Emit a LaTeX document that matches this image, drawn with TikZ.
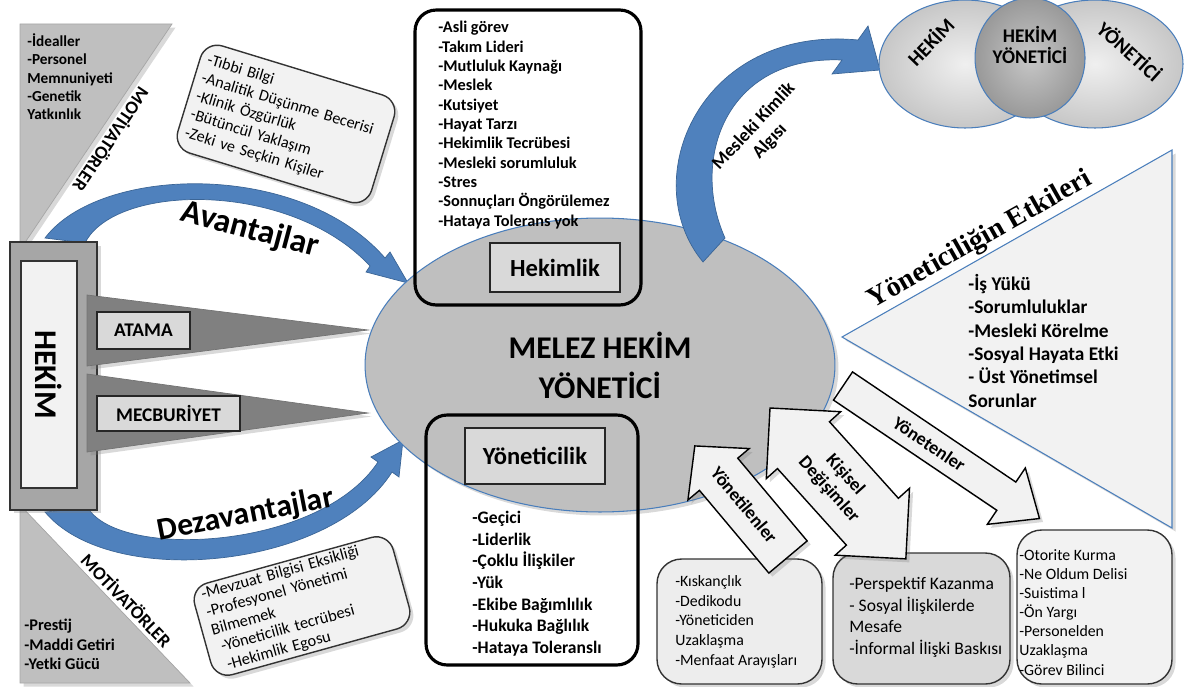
\documentclass[tikz,border=0pt]{standalone}
\usepackage{fontspec}
\setmainfont{Carlito}
\newfontfamily\serifbold{Liberation Serif}
\usetikzlibrary{shapes.geometric, arrows.meta, positioning, calc, shadows}
\definecolor{frameGray}{HTML}{A6A6A6}
\definecolor{paleGray}{HTML}{F2F2F2}
\definecolor{labelGray}{HTML}{D9D9D9}
\definecolor{wedgeGray}{HTML}{808080}
\definecolor{coreGray}{HTML}{BFBFBF}
\definecolor{bandBlue}{HTML}{4F81BD}
\definecolor{rimBlue}{HTML}{4A7EBB}

\begin{document}
\begin{tikzpicture}[
    x=0.02cm, y=-0.02cm,
    every node/.style={inner sep=0pt},
    softshadow/.style={drop shadow={opacity=0.3, shadow xshift=2pt, shadow yshift=-2pt}},
    listtext/.style={align=left, anchor=north west, font=\bfseries\fontsize{9.3}{11}\selectfont},
    notetext/.style={align=left, anchor=north west, font=\fontsize{9}{11.2}\selectfont},
    labelbox/.style={draw=black!85, line width=0.6pt, fill=labelGray, font=\bfseries\fontsize{11}{13}\selectfont},
    roundbox/.style={draw=black, line width=1.8pt, rounded corners=12pt},
    notebox/.style={draw=black!80, fill=paleGray, rounded corners=10pt, line width=0.8pt, softshadow},
    blockarrow/.style={draw=black, line width=0.8pt, fill=paleGray, softshadow},
    bluearrow/.style={fill=bandBlue, draw=rimBlue!80!black, line width=0.4pt},
    venn/.style={ellipse, draw=rimBlue, line width=0.6pt},
]
\useasboundingbox (0,0) rectangle (1185,686);

% motivator corners
\filldraw[fill=coreGray, draw=black!35, softshadow] (20,24) -- (172,24) -- (20,250) -- cycle;
\filldraw[fill=coreGray, draw=black!35, softshadow] (20,505) -- (190,683) -- (20,683) -- cycle;
\node[listtext, font=\bfseries\fontsize{8.7}{10.5}\selectfont] (idealler) at (27,33)
    {-İdealler\\-Personel\\Memnuniyeti\\-Genetik\\Yatkınlık};
\node[listtext] (prestij) at (24,619) {-Prestij\\-Maddi Getiri\\-Yetki Gücü};
\node[font=\bfseries\fontsize{10.5}{12}\selectfont, rotate=-124] (motivust) at (112,140) {MOTİVATÖRLER};
\node[font=\bfseries\fontsize{10.5}{12}\selectfont, rotate=-46] (motivalt) at (127,600) {MOTİVATÖRLER};

% curved arrows on the left
\filldraw[bluearrow] (45,238) .. controls (100,165) and (300,160) .. (385,258)
    -- (390,252) -- (408,283) -- (366,272) -- (370,266)
    .. controls (290,180) and (115,183) .. (85,243) -- cycle;
\node[font=\bfseries\fontsize{19}{21}\selectfont, rotate=-15] (avantaj) at (250,230) {Avantajlar};
\filldraw[bluearrow] (45,512) .. controls (110,590) and (330,570) .. (392,472)
    -- (399,477) -- (403,440) -- (371,457) -- (378,462)
    .. controls (320,550) and (120,560) .. (88,508) -- cycle;
\node[font=\bfseries\fontsize{18}{20}\selectfont, rotate=11] (dezavantaj) at (246,515) {Dezavantajlar};

% hekim frame and wedges
\node[draw=black!80, line width=0.8pt, fill=frameGray, minimum width=1.74cm, minimum height=5.36cm, softshadow] (hekimframe) at (53.5,376) {};
\node[draw=black!80, line width=0.8pt, fill=paleGray, minimum width=4.54cm, minimum height=1.12cm,
    rotate=-90, font=\bfseries\fontsize{18}{20}\selectfont] (hekim) at (49,374.5) {HEKİM};
\filldraw[fill=wedgeGray, draw=black!55, softshadow] (87,295) -- (368,330) -- (87,366) -- cycle;
\filldraw[fill=wedgeGray, draw=black!55, softshadow] (87,374) -- (368,413) -- (87,452) -- cycle;
\node[labelbox, minimum width=1.86cm, minimum height=0.74cm] (atama) at (143.5,330.5) {ATAMA};
\node[labelbox, minimum width=2.86cm, minimum height=0.7cm] (mecburiyet) at (168.5,413.5) {MECBURİYET};

% central ellipse
\node[ellipse, draw=rimBlue, line width=0.6pt, fill=coreGray, minimum width=9.4cm, minimum height=5.88cm,
    softshadow, align=center, font=\bfseries\fontsize{18}{22.7}\selectfont] (melez) at (600,365) {MELEZ HEKİM\\YÖNETİCİ};

% arrow to the venn
\filldraw[bluearrow] (703,262) .. controls (635,180) and (700,25) .. (858,40)
    -- (868,26) -- (880,70) -- (832,74) -- (842,60)
    .. controls (725,55) and (690,160) .. (725,238) -- cycle;
\node[font=\bfseries\fontsize{10.5}{12.5}\selectfont, rotate=47, align=center] (kimlik) at (762,134) {Mesleki Kimlik\\Algısı};

% hekimlik
\node[roundbox, minimum width=4.52cm, minimum height=5.9cm] (hekimlikbox) at (528,157.5) {};
\node[listtext] (hekimlist) at (438,21) {-Asli görev\\-Takım Lideri\\-Mutluluk Kaynağı\\-Meslek\\-Kutsiyet\\-Hayat Tarzı\\-Hekimlik Tecrübesi\\-Mesleki sorumluluk\\-Stres\\-Sonnuçları Öngörülemez\\-Hataya Tolerans yok};
\node[labelbox, font=\bfseries\fontsize{14}{16}\selectfont, minimum width=2.6cm, minimum height=0.98cm] (hekimlik) at (555,267.5) {Hekimlik};

% yoneticilik
\node[roundbox, minimum width=4.24cm, minimum height=5cm] (yonetimbox) at (532,540) {};
\node[labelbox, font=\bfseries\fontsize{14}{16}\selectfont, minimum width=2.8cm, minimum height=1.12cm] (yoneticilik) at (535,456) {Yöneticilik};
\node[listtext, font=\bfseries\fontsize{10}{12.3}\selectfont] (yonetimlist) at (472,511) {-Geçici\\-Liderlik\\-Çoklu İlişkiler\\-Yük\\-Ekibe Bağımlılık\\-Hukuka Bağlılık\\-Hataya Toleranslı};

% tilted notes
\node[notebox, rotate=-17, minimum width=4.05cm, minimum height=2.24cm, text width=3.75cm, align=left,
    font=\fontsize{9.2}{10.9}\selectfont] (tibbi) at (286,124)
    {-Tıbbi Bilgi\\-Analitik Düşünme Becerisi\\-Klinik Özgürlük\\-Bütüncül Yaklaşım\\-Zeki ve Seçkin Kişiler};
\node[notebox, rotate=15.5, minimum width=4.12cm, minimum height=1.9cm, text width=3.75cm, align=left,
    font=\fontsize{9.3}{10.6}\selectfont] (mevzuat) at (302,606)
    {-Mevzuat Bilgisi Eksikliği\\-Profesyonel Yönetimi\\Bilmemek\\\hspace*{0.1cm}-Yöneticilik tecrübesi\\\hspace*{0.12cm}-Hekimlik Egosu};

% venn
\node[venn, minimum width=3.44cm, minimum height=2.56cm, inner color=black!6, outer color=black!22] (venhekim) at (965,64) {};
\node[venn, minimum width=3.52cm, minimum height=2.56cm, inner color=black!6, outer color=black!22] (venyonetici) at (1095,64) {};
\node[venn, minimum width=2.2cm, minimum height=2.4cm, inner color=black!22, outer color=black!40] (venortak) at (1030,58) {};
\node[font=\bfseries\fontsize{11.5}{13}\selectfont, rotate=46] (venhekimtext) at (930,41) {HEKİM};
\node[font=\bfseries\fontsize{11.5}{13}\selectfont, rotate=-42] (venyonetext) at (1130,51) {YÖNETİCİ};
\node[font=\bfseries\fontsize{11}{12.5}\selectfont, align=center] (venortaktext) at (1030,45) {HEKİM\\YÖNETİCİ};

% effects triangle
\filldraw[fill=paleGray, draw=rimBlue, line width=0.6pt, softshadow] (842,337) -- (1172,150) -- (1172,528) -- cycle;
\node[font=\serifbold\bfseries\fontsize{16}{18}\selectfont, rotate=29.5] (etkiler) at (980,240) {Yöneticiliğin Etkileri};
\node[listtext, font=\bfseries\fontsize{11}{13.3}\selectfont] (etkilist) at (968,274) {-İş Yükü\\-Sorumluluklar\\-Mesleki Körelme\\-Sosyal Hayata Etki\\- Üst Yönetimsel\\Sorunlar};

% bottom boxes
\node[notebox, fill=black!7, rounded corners=14pt, minimum width=3.3cm, minimum height=2.5cm] (kiskanclik) at (739.5,621.5) {};
\node[notetext] (kiskanclist) at (675,575) {-Kıskançlık\\-Dedikodu\\-Yöneticiden\\Uzaklaşma\\-Menfaat Arayışları};
\node[notebox, fill=labelGray, rounded corners=14pt, minimum width=3.54cm, minimum height=2.62cm] (perspektif) at (921.5,618.5) {};
\node[notetext, font=\fontsize{10}{12.3}\selectfont] (perspeklist) at (849,577) {-Perspektif Kazanma\\- Sosyal İlişkilerde\\Mesafe\\-İnformal İlişki Baskısı};
\node[notebox, rounded corners=14pt, minimum width=3.1cm, minimum height=3.08cm] (otorite) at (1094.5,607) {};
\node[notetext, font=\fontsize{9}{10.9}\selectfont] (otoritelist) at (1019,549) {-Otorite Kurma\\-Ne Oldum Delisi\\-Suistima l\\-Ön Yargı\\-Personelden\\Uzaklaşma\\-Görev Bilinci};

% block arrows
\coordinate (yonetenTail) at (843,386);
\begin{scope}[shift={(yonetenTail)}, rotate=-34]
  \filldraw[blockarrow] (0,-17) -- (197,-17) -- (197,-34) -- (237,0) -- (197,34) -- (197,17) -- (0,17) -- cycle;
  \node[font=\bfseries\fontsize{10.5}{12}\selectfont, rotate=-34] (yonetenler) at (104,0) {Yönetenler};
\end{scope}
\coordinate (yonetilenTail) at (788,557);
\begin{scope}[shift={(yonetilenTail)}, rotate=130]
  \filldraw[blockarrow] (0,-25) -- (108,-25) -- (108,-40) -- (145,0) -- (108,40) -- (108,25) -- (0,25) -- cycle;
  \node[font=\bfseries\fontsize{10.5}{12}\selectfont, rotate=-50] (yonetilenler) at (68,0) {Yönetilenler};
\end{scope}
\coordinate (kisiselTip) at (770,408);
\begin{scope}[shift={(kisiselTip)}, rotate=-48]
  \filldraw[blockarrow] (0,0) -- (50,-50) -- (50,-35) -- (153,-35) -- (153,-50) -- (203,0)
      -- (153,50) -- (153,35) -- (50,35) -- (50,50) -- cycle;
  \node[font=\bfseries\fontsize{10.5}{12.5}\selectfont, rotate=-48, align=center] (kisisel) at (100,0) {Kişisel\\Değişimler};
\end{scope}
\end{tikzpicture}
\end{document}
